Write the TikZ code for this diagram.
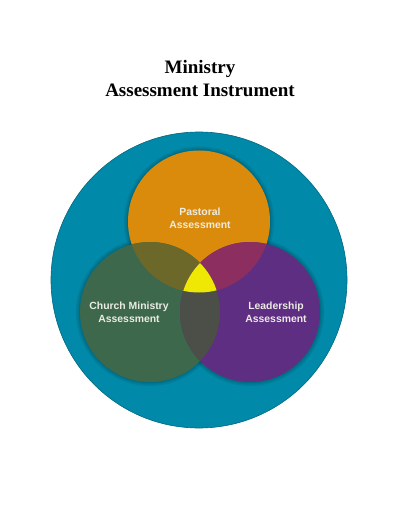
\documentclass[tikz,border=0pt]{standalone}
\usepackage{fontspec}
\setmainfont{Liberation Serif}
\setsansfont{Liberation Sans}
\usepackage{xcolor}
\usetikzlibrary{
    positioning
}

\definecolor{ringteal}{RGB}{0,137,168}
\definecolor{pastoralorange}{RGB}{219,139,12}
\definecolor{churchgreen}{RGB}{62,104,76}
\definecolor{leaderpurple}{RGB}{94,46,130}
\definecolor{overlapolive}{RGB}{108,104,42}
\definecolor{overlapplum}{RGB}{140,46,96}
\definecolor{overlapgray}{RGB}{76,78,72}
\definecolor{centeryellow}{RGB}{238,232,4}
\definecolor{labelwhite}{RGB}{236,236,228}

\tikzset{
    titletext/.style={font=\bfseries\fontsize{19}{23}\selectfont, anchor=base},
    venntext/.style={text=labelwhite, align=center,
        font=\sffamily\bfseries\fontsize{10.4}{13}\selectfont},
    softshadow/.style={fill=black, fill opacity=0.07}
}

\begin{document}
\begin{tikzpicture}[x=1pt, y=-1pt]
    \useasboundingbox (0,0) rectangle (400,518);
    \fill[white] (0,0) rectangle (400,518);

    % title
    \node[titletext] (titletop) at (200,73.5) {Ministry};
    \node[titletext] (titlebottom) at (200,96.8) {Assessment Instrument};

    % outer ring
    \fill[ringteal, draw=ringteal!75!black, line width=0.6pt] (199,280) circle (148);

    % soft edges
    \foreach \r in {4,2.5,1.2} {
        \fill[softshadow] (199,221.5) circle (71+\r);
        \fill[softshadow] (150,312) circle (70+\r);
        \fill[softshadow] (250,312) circle (70+\r);
    }

    % the three circles
    \fill[pastoralorange] (199,221.5) circle (71);
    \fill[churchgreen] (150,312) circle (70);
    \fill[leaderpurple] (250,312) circle (70);

    % overlaps
    \begin{scope}
        \clip (199,221.5) circle (71);
        \fill[overlapolive] (150,312) circle (70);
        \fill[overlapplum] (250,312) circle (70);
    \end{scope}
    \begin{scope}
        \clip (150,312) circle (70);
        \fill[overlapgray] (250,312) circle (70);
    \end{scope}
    \begin{scope}
        \clip (199,221.5) circle (71);
        \clip (150,312) circle (70);
        \fill[centeryellow] (250,312) circle (70);
    \end{scope}

    % labels
    \node[venntext] (pastoral) at (200,218) {Pastoral\\Assessment};
    \node[venntext] (church) at (129,312) {Church Ministry\\Assessment};
    \node[venntext] (leadership) at (276,312) {Leadership\\Assessment};
\end{tikzpicture}
\end{document}
